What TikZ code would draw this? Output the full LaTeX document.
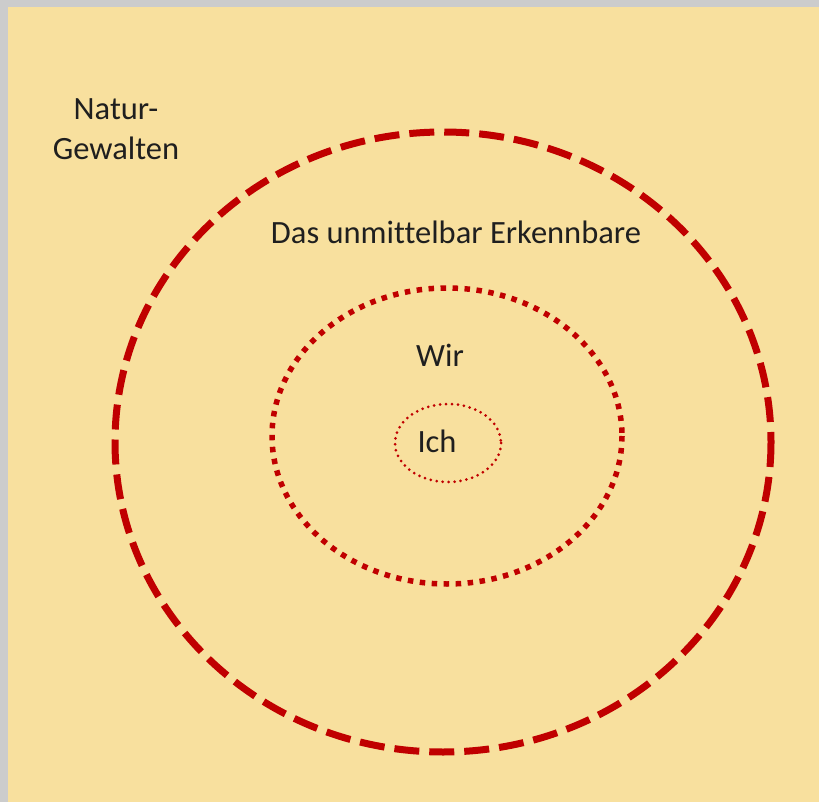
\documentclass[tikz,border=0pt]{standalone}
\usepackage{fontspec}
\setmainfont{Carlito}[Ligatures=NoCommon]
\definecolor{bg}{RGB}{248,224,158}
\definecolor{frame}{RGB}{204,204,204}
\definecolor{ring}{RGB}{192,0,0}
\begin{document}
\begin{tikzpicture}[x=1pt,y=-1pt,
  lbl/.style={font=\fontsize{32.5}{40}\selectfont, text=black!88, inner sep=0pt, align=center},
  outerring/.style={draw=ring, line width=7pt, dash pattern=on 25pt off 10pt},
  midring/.style={draw=ring, line width=5.5pt, dash pattern=on 5.5pt off 6.5pt},
  innerring/.style={draw=ring, line width=3pt, line cap=round, dash pattern=on 0pt off 6pt}]
\useasboundingbox (0,0) rectangle (819,802);
\fill[frame] (0,0) rectangle (819,802);
\fill[bg] (8,7) rectangle (819,802);
\draw[outerring] (443,442) ellipse [x radius=328, y radius=310];
\draw[midring] (447,436) ellipse [x radius=175, y radius=148];
\draw[innerring] (448,443) ellipse [x radius=53, y radius=39];
\node[lbl] (natur) at (116,129) {Natur-\\Gewalten};
\node[lbl] (erk) at (456,232) {Das unmittelbar Erkennbare};
\node[lbl] (wir) at (440,355) {Wir};
\node[lbl] (ich) at (437,441) {Ich};
\end{tikzpicture}
\end{document}
